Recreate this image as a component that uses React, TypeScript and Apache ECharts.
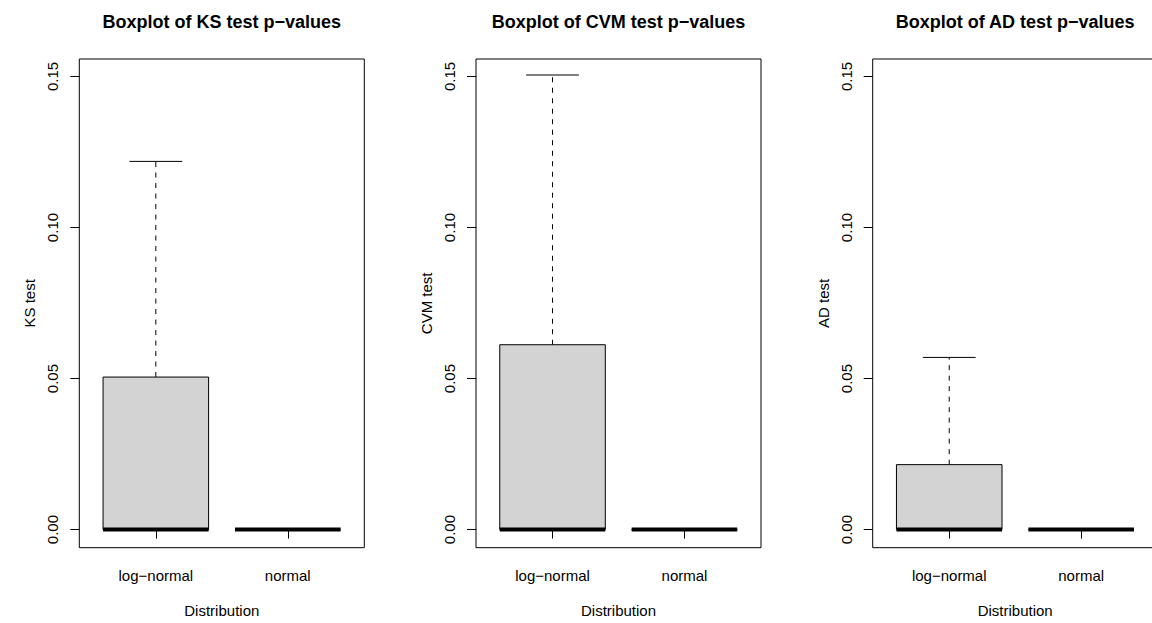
import { useEffect, useRef } from 'react';
import * as echarts from 'echarts';

// Group labels and panel texts
const categories = ['log−normal', 'normal'];
const panelTitles = [
  'Boxplot of KS test p−values',
  'Boxplot of CVM test p−values',
  'Boxplot of AD test p−values',
];
const yAxisNames = ['KS test', 'CVM test', 'AD test'];
const xAxisName = 'Distribution';
const yTicks = [0, 0.05, 0.1, 0.15];

// Box statistics per group: [lower whisker, Q1, median, Q3, upper whisker]
const ksStats = [
  [0, 0, 0, 0.0505, 0.1219],
  [0, 0, 0, 0, 0],
];
const cvmStats = [
  [0, 0, 0, 0.0612, 0.1505],
  [0, 0, 0, 0, 0],
];
const adStats = [
  [0, 0, 0, 0.0215, 0.057],
  [0, 0, 0, 0, 0],
];

const FONT = 'Liberation Sans, Arial, Helvetica, sans-serif';
const PANEL_LEFTS = [79.3, 476, 872.7];
const PANEL_WIDTH = 285;
const PANEL_TOP = 59;
const PANEL_HEIGHT = 488.7;
// The third panel runs a little past the right edge of the page
const CANVAS_WIDTH = 1170;
const CANVAS_HEIGHT = 623;

const renderBox = (_params: any, api: any) => {
  const x = api.value(0);
  const lo = api.value(1);
  const q1 = api.value(2);
  const med = api.value(3);
  const q3 = api.value(4);
  const hi = api.value(5);
  const half = 0.4;
  const capHalf = 0.2;
  const [xl, yq3] = api.coord([x - half, q3]);
  const [xr, yq1] = api.coord([x + half, q1]);
  const [xc, yHi] = api.coord([x, hi]);
  const yLo = api.coord([x, lo])[1];
  const yMed = api.coord([x, med])[1];
  const cl = api.coord([x - capHalf, hi])[0];
  const cr = api.coord([x + capHalf, hi])[0];
  const dashed = { stroke: '#000', lineWidth: 1, lineDash: [5, 5.5], fill: null };
  const solid = { stroke: '#000', lineWidth: 1, fill: null };
  return {
    type: 'group',
    children: [
      { type: 'line', shape: { x1: xc, y1: yq3, x2: xc, y2: yHi }, style: dashed },
      { type: 'line', shape: { x1: xc, y1: yq1, x2: xc, y2: yLo }, style: dashed },
      { type: 'line', shape: { x1: cl, y1: yHi, x2: cr, y2: yHi }, style: solid },
      { type: 'line', shape: { x1: cl, y1: yLo, x2: cr, y2: yLo }, style: solid },
      {
        type: 'rect',
        shape: { x: xl, y: yq3, width: xr - xl, height: yq1 - yq3 },
        style: { fill: '#D3D3D3', stroke: '#000', lineWidth: 1 },
      },
      {
        type: 'line',
        shape: { x1: xl, y1: yMed, x2: xr, y2: yMed },
        style: { stroke: '#000', lineWidth: 4, lineCap: 'butt', fill: null },
      },
    ],
  };
};

export default function App() {
  const ref = useRef<HTMLDivElement>(null);

  useEffect(() => {
    document.body.style.margin = '0';
    document.body.style.overflow = 'hidden';
    if (!ref.current) return;
    const chart = echarts.init(ref.current, null, { renderer: 'svg' });
    const allStats = [ksStats, cvmStats, adStats];

    const grid = PANEL_LEFTS.map((left) => ({
      left,
      top: PANEL_TOP,
      width: PANEL_WIDTH,
      height: PANEL_HEIGHT,
      show: true,
      borderColor: '#000',
      borderWidth: 1,
      backgroundColor: 'transparent',
      containLabel: false,
    }));

    const xAxis = PANEL_LEFTS.map((_, i) => ({
      type: 'value',
      gridIndex: i,
      min: 0.42,
      max: 2.58,
      name: xAxisName,
      nameLocation: 'middle',
      nameGap: 55,
      nameTextStyle: { color: '#000', fontSize: 15, fontFamily: FONT },
      splitLine: { show: false },
      axisLine: { show: false },
      axisTick: {
        show: true,
        inside: false,
        length: 9,
        customValues: [1, 2],
        lineStyle: { color: '#000', width: 1 },
      },
      axisLabel: {
        customValues: [1, 2],
        margin: 20,
        color: '#000',
        fontSize: 15,
        fontFamily: FONT,
        formatter: (v: number) => categories[Math.round(v) - 1] ?? '',
      },
    }));

    const yAxis = PANEL_LEFTS.map((_, i) => ({
      type: 'value',
      gridIndex: i,
      min: -0.006,
      max: 0.1558,
      name: yAxisNames[i],
      nameLocation: 'middle',
      nameGap: 42,
      nameRotate: 90,
      nameTextStyle: { color: '#000', fontSize: 15, fontFamily: FONT },
      splitLine: { show: false },
      axisLine: { show: false },
      axisTick: {
        show: true,
        inside: false,
        length: 9,
        customValues: yTicks,
        lineStyle: { color: '#000', width: 1 },
      },
      axisLabel: {
        customValues: yTicks,
        rotate: 90,
        margin: 19,
        color: '#000',
        fontSize: 15,
        fontFamily: FONT,
        formatter: (v: number) => v.toFixed(2),
      },
    }));

    const series = allStats.map((stats, i) => ({
      type: 'custom',
      xAxisIndex: i,
      yAxisIndex: i,
      clip: false,
      silent: true,
      encode: { x: 0, y: [1, 2, 3, 4, 5] },
      data: stats.map((s, k) => [k + 1, ...s]),
      renderItem: renderBox,
    }));

    const graphic = panelTitles.map((text, i) => ({
      type: 'text',
      x: PANEL_LEFTS[i] + PANEL_WIDTH / 2,
      y: 22,
      silent: true,
      style: {
        text,
        fill: '#000',
        font: `bold 18px ${FONT}`,
        textAlign: 'center',
        textVerticalAlign: 'middle',
      },
    }));

    chart.setOption({
      animation: false,
      backgroundColor: '#fff',
      grid,
      xAxis,
      yAxis,
      series,
      graphic,
    } as any);

    return () => chart.dispose();
  }, []);

  return (
    <div
      ref={ref}
      style={{ position: 'fixed', left: 0, top: 0, width: CANVAS_WIDTH, height: CANVAS_HEIGHT }}
    />
  );
}
